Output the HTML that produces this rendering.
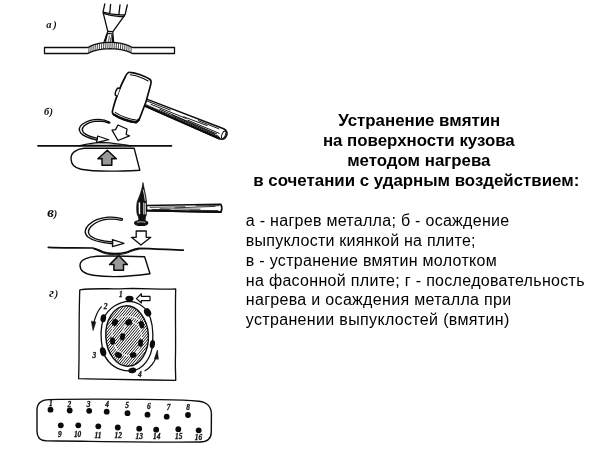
<!DOCTYPE html>
<html lang="ru"><head><meta charset="utf-8"><title>Устранение вмятин</title>
<style>
html,body{margin:0;padding:0;background:#fff;}
body{width:600px;height:449px;position:relative;overflow:hidden;font-family:"Liberation Sans",sans-serif;color:#000;}
.t{position:absolute;white-space:nowrap;line-height:20px;opacity:0.999;will-change:opacity;}
.h{font-weight:bold;font-size:16.85px;left:240px;width:360px;text-align:center;}
.b{font-size:16px;left:245.8px;}
svg{position:absolute;left:0;top:0;opacity:0.999;will-change:opacity;}
</style></head><body>
<div class="t h" style="top:111.0px;left:239.3px;">Устранение вмятин</div>
<div class="t h" style="top:131.0px;left:238.8px;">на поверхности кузова</div>
<div class="t h" style="top:151.0px;left:238.8px;">методом нагрева</div>
<div class="t h" style="top:171.0px;left:236.3px;">в сочетании с ударным воздействием:</div>
<div class="t b" style="top:211.2px;letter-spacing:0.29px;">а - нагрев металла; б - осаждение</div>
<div class="t b" style="top:231.0px;letter-spacing:0.23px;">выпуклости киянкой на плите;</div>
<div class="t b" style="top:250.8px;letter-spacing:0.305px;">в - устранение вмятин молотком</div>
<div class="t b" style="top:270.6px;letter-spacing:0.31px;">на фасонной плите; г - последовательность</div>
<div class="t b" style="top:290.4px;letter-spacing:0.315px;">нагрева и осаждения металла при</div>
<div class="t b" style="top:310.2px;letter-spacing:0.34px;">устранении выпуклостей (вмятин)</div>
<svg id="art" width="600" height="449" viewBox="0 0 600 449" fill="none" stroke="#0c0c0c" stroke-width="1.2" stroke-linecap="round" stroke-linejoin="round">
<defs>
<clipPath id="cpE"><ellipse cx="127.1" cy="336" rx="21.3" ry="30.2" transform="rotate(-3 127.1 336)"/></clipPath>
</defs>
<g fill="#111" stroke="none" font-family="'Liberation Serif',serif" font-style="italic" font-weight="bold" font-size="10.5" letter-spacing="1.9">
<text x="46.2" y="27.9">а)</text>
<text x="43.9" y="115.3" letter-spacing="0.4">б)</text>
<text x="47.3" y="217.2" letter-spacing="0"><tspan font-size="15">в</tspan><tspan x="53.7">)</tspan></text>
<text x="48.9" y="297.3" letter-spacing="0"><tspan font-size="13.5">г</tspan><tspan x="54.8" dy="0">)</tspan></text>
</g>
<g id="figa" stroke-width="1.3">
<path d="M44.5,47.5 L87.1,47.50 L88.1,47.32 L89.1,46.89 L90.1,46.33 L91.1,45.78 L92.1,45.37 L93.1,45.02 L94.1,44.70 L95.1,44.39 L96.1,44.11 L97.1,43.85 L98.1,43.62 L99.1,43.41 L100.1,43.22 L101.1,43.05 L102.1,42.90 L103.1,42.77 L104.1,42.67 L105.1,42.58 L106.1,42.51 L107.1,42.46 L108.1,42.42 L109.1,42.41 L110.1,42.40 L111.1,42.41 L112.1,42.42 L113.1,42.46 L114.1,42.51 L115.1,42.58 L116.1,42.67 L117.1,42.77 L118.1,42.90 L119.1,43.05 L120.1,43.22 L121.1,43.41 L122.1,43.62 L123.1,43.85 L124.1,44.11 L125.1,44.39 L126.1,44.70 L127.1,45.02 L128.1,45.37 L129.1,45.78 L130.1,46.33 L131.1,46.89 L132.1,47.32 L133.1,47.50 L174.5,47.5 V53.5 L133.1,53.50 L132.1,53.34 L131.1,52.93 L130.1,52.41 L129.1,51.90 L128.1,51.52 L127.1,51.20 L126.1,50.89 L125.1,50.61 L124.1,50.35 L123.1,50.11 L122.1,49.89 L121.1,49.69 L120.1,49.52 L119.1,49.36 L118.1,49.22 L117.1,49.10 L116.1,49.00 L115.1,48.92 L114.1,48.86 L113.1,48.81 L112.1,48.78 L111.1,48.76 L110.1,48.76 L109.1,48.76 L108.1,48.78 L107.1,48.81 L106.1,48.86 L105.1,48.92 L104.1,49.00 L103.1,49.10 L102.1,49.22 L101.1,49.36 L100.1,49.52 L99.1,49.69 L98.1,49.89 L97.1,50.11 L96.1,50.35 L95.1,50.61 L94.1,50.89 L93.1,51.20 L92.1,51.52 L91.1,51.90 L90.1,52.41 L89.1,52.93 L88.1,53.34 L87.1,53.50 L44.5,53.5 Z"/>
<path d="M89.0,47.44 L88.8,52.48 M91.1,46.28 L90.9,51.40 M93.2,45.48 L93.0,50.66 M95.3,44.82 L95.1,50.05 M97.4,44.27 L97.2,49.53 M99.5,43.82 L99.3,49.11 M101.7,43.46 L101.5,48.78 M103.8,43.20 L103.6,48.53 M105.9,43.02 L105.7,48.37 M108.0,42.93 L107.8,48.28 M110.1,42.90 L109.9,48.26 M112.2,42.93 L112.0,48.28 M114.3,43.02 L114.1,48.37 M116.4,43.20 L116.2,48.53 M118.5,43.46 L118.3,48.78 M120.7,43.82 L120.5,49.11 M122.8,44.27 L122.6,49.53 M124.9,44.82 L124.7,50.05 M127.0,45.48 L126.8,50.66 M129.1,46.28 L128.9,51.40 M131.2,47.44 L131.0,52.48" stroke-width="0.85" stroke="#222"/>
<path d="M104.8,3.9 L103,12.2 L107.8,31.4 M127.3,5 L125.1,14.6 L112.9,31.6 M110.6,4.4 L109.8,12.9 M120,4.8 L118.9,14.2 M103,12.2 C108,13.6 118,15.2 125.1,14.6"/>
<path d="M104.3,13.6 C110,15.6 118,16.8 124,16.2" stroke-width="1.5"/>
<path d="M107.8,31.4 L112.9,31.6 M107.6,31.8 L104,41.9 M112.8,31.8 L113.7,42 M108,33.6 L112.6,33.8" stroke-width="1.1"/>
<path d="M107,34.5 L105.3,41.6 M112,35 L112.6,41.6" stroke-width="1.6"/>
<path d="M109.3,36 L108.6,41.5 M110.6,38 L110.6,41.5" stroke-width="0.7"/>
</g>
<g id="mallet" transform="translate(132.4,97) rotate(19.5)" stroke-width="1.3">
<g transform="rotate(2.9 13 0)">
<path d="M12,-2.8 L96.5,-4.8 C100,-4.4 101.8,-2.2 101.8,0.6 C101.8,3.8 100,5.8 96.5,6.1 L12,4.2 Z" fill="#fff" stroke-width="1.5"/>
<ellipse cx="98.8" cy="0.8" rx="1.7" ry="4" fill="#fff" stroke-width="1"/>
<path d="M14,-1.2 L40,-1.7 M20,0.4 L58,0 M30,1.6 L92,2.6 M36,3 L95,4.2 M55,-0.6 L80,-1.4 M60,1 L94,1.2 M16,2.6 L36,3 M44,2.2 L90,3.4 M70,-2.6 L92,-2.9" stroke-width="0.85"/>
<path d="M13,3.9 L96,5.8" stroke-width="2.3"/>
</g>
<path d="M-10.5,-22.5 C-5,-24 5,-24 10.5,-22.5 C12.5,-22 13,-20 13.2,-17 C14.5,-6 14.8,6 14,17.5 C13.8,20.6 13.3,22.2 11.3,22.9 C5,24.6 -6,24.6 -11.8,22.9 C-13.8,22.2 -14.3,20.6 -14.4,17.5 C-15.3,6 -15,-6 -13.4,-17 C-13.2,-20 -12.7,-22 -10.5,-22.5 Z" fill="#fff" stroke-width="1.7"/>
<path d="M-9.5,-20.3 C-4,-21.5 4,-21.5 9.5,-20.3 M-11,20.2 C-5,22 6,22 11.3,20.4" stroke-width="1"/>
<path d="M-11.5,22.7 C-5,24.4 6,24.4 11.8,22.6 L13.6,19.2" stroke-width="2.4"/>
<path d="M-14.6,-4 L-16.8,-3.6 C-17.8,-1 -17.8,2 -16.8,4 L-14.7,4.2" fill="#fff" stroke-width="1.3"/>
</g>
<g id="figb">
<path d="M109.5,122 C106,120.3 103,119.5 99,119.4 C93,119.3 86,121.5 82,124.5 C79,127 78.8,130.5 81,133.3 C84,136.8 90,138.5 96.8,140.2 L97.5,138.3 C91,136.8 86.5,135.3 84,133 C82,131 81.8,128.5 84,126 C87,123.3 93,121.3 99,121.2 C103,121.3 106,122 109,123.2 C110,123 110.2,122.4 109.5,122 Z" fill="#fff" stroke-width="1.35"/>
<path d="M97.6,136 L108.7,139.7 L96.3,142.7 L97.3,139.3 Z" fill="#fff" stroke-width="1.2"/>
<path d="M118,125 L127,129 L126.2,134.5 L129.5,135.8 L118,140.5 L112,130.2 L115.5,129.6 Z" fill="#fff" stroke-width="1.3"/>
<path d="M38,145.8 L171.5,145.8" stroke-width="1.7"/>
<path d="M79,145.8 C86,144.2 94,142.5 102,142.3 C110,142.4 119,144.3 131,146" stroke-width="1.3"/>
<path d="M86,145 C93,144.2 98,143.9 103,143.9 C109,144 116,144.6 124,145.3" stroke-width="0.6" stroke="#555"/>
<path d="M134.2,148.3 L84,148.3 C76,149 71,153 71,158.4 C71,163.6 74.5,167.8 81,169.2 C93,171.6 118,171.4 139.8,170.2 Z" fill="none" stroke-width="1.4"/>
<path d="M107.3,150.2 L116.3,158.8 L111.8,158.6 L111.8,165.2 L102,165.2 L102,158.6 L97.9,158.8 Z" fill="#999" stroke-width="1.5"/>
</g>
<g id="figv">
<path d="M146.5,205.5 L220.8,204.2 C222,206.5 222,210 221,212.2 L146.5,210.6 Z" fill="#fff" stroke-width="1.6"/>
<path d="M150,207.3 L185,206.8 M160,208.8 L200,209.2 M175,207.9 L215,206.4 M190,210.3 L218,210.6 M152,209.4 L170,209.7 M196,205.8 L219,205.7" stroke-width="0.8"/>
<path d="M147,210.5 L220.8,212.1" stroke-width="2"/>
<path d="M143,183 C142,190 139.6,196 137.5,201 C136.5,203 136.4,213 137.5,215 C138.7,217 138.9,219 138.7,220.5 L145.3,220.5 C145.1,219 145.3,217 146.3,215 L146.5,201.5 C146,196 144.4,190 143,183 Z" fill="#111" stroke-width="0.7"/>
<path d="M139.4,203 L139.5,213.5" stroke="#fff" stroke-width="1.5"/>
<path d="M143.8,203 L143.8,214 M145.3,203.5 L145.3,214" stroke="#fff" stroke-width="0.9"/>
<path d="M143.3,190 C144.2,193.5 144.8,197 145.2,200.5" stroke="#fff" stroke-width="0.8"/>
<ellipse cx="141.2" cy="223" rx="6.6" ry="2.5" fill="#111" stroke-width="1.2"/>
<path d="M137.5,222.3 C139.5,221.6 143,221.6 145,222.3" stroke="#fff" stroke-width="0.7"/>
<path d="M122,218.6 C118,217.3 113,216.8 108,217.2 C101,217.8 93,220.5 88.5,225 C84.5,229 84,233.5 88,237 C93,241 102,242.8 112.5,243.8 L112.6,242 C103,241.2 95,239.5 90.5,236 C87.5,233.3 87.8,230 91,226.5 C95,222.5 102,219.8 108.5,219.2 C113,218.8 117.5,219.3 121.5,220.3 C122.6,220 122.8,219.2 122,218.6 Z" fill="#fff" stroke-width="1.35"/>
<path d="M112.3,239.6 L124,243.3 L112.3,246.6 L112.9,243 Z" fill="#fff" stroke-width="1.2"/>
<path d="M136.2,231 L146.2,231 L146.2,237.3 L150.8,237.3 L140.9,245 L131.5,237.3 L136.2,237.3 Z" fill="#fff" stroke-width="1.3"/>
<g transform="translate(0,0.4)"><path d="M48.3,247 C60,247.6 80,247.3 92.5,247.6 C96,248 99,250 102.5,251.4 C109,253.9 120,253.8 127,251.6 C131,250.2 134.5,248.2 139,247.9 C150,248 170,249.3 183.3,249.8" stroke-width="1.7"/>
<path d="M94,248.8 C97,249.4 99.5,251.2 103,252.5 C109,254.8 120,254.8 126.5,252.8 C130.5,251.5 134,249.6 138.5,249" stroke-width="1"/></g>
<path d="M97,256.2 C88,256.7 80,259.7 80,265.3 C80,270.6 85,274.2 93,275.3 C108,277.3 132,276.4 150,273.8 L144.6,256.8 C130,256.2 110,255.8 97,256.2 Z" fill="none" stroke-width="1.4"/>
<path d="M118.6,255.6 L127.4,264.6 L123.5,264.4 L123.5,270.3 L113.9,270.3 L113.9,264.4 L109.6,264.6 Z" fill="#999" stroke-width="1.5"/>
</g>
<g id="figg">
<path d="M79.8,289.8 C95,287.8 110,289.3 125,288.6 C145,288 160,289.8 175.7,289 C175,310 176,340 175.4,360 C175.2,370 175.8,376 175.7,380.4 C150,380 120,379.4 100,379.1 C92,379 85,378.9 78.6,378.7 C79.6,350 78.6,320 79.8,289.8 Z" stroke-width="1.3"/>
<g clip-path="url(#cpE)"><path d="M65.6,328.4 L109.3,276.3 M67.1,329.7 L110.9,277.6 M68.7,331.0 L112.4,278.9 M70.2,332.3 L113.9,280.2 M71.7,333.6 L115.4,281.5 M73.3,334.8 L117.0,282.8 M74.8,336.1 L118.5,284.0 M76.3,337.4 L120.0,285.3 M77.9,338.7 L121.6,286.6 M79.4,340.0 L123.1,287.9 M80.9,341.3 L124.6,289.2 M82.5,342.6 L126.2,290.5 M84.0,343.8 L127.7,291.8 M85.5,345.1 L129.2,293.0 M87.1,346.4 L130.8,294.3 M88.6,347.7 L132.3,295.6 M90.1,349.0 L133.8,296.9 M91.7,350.3 L135.4,298.2 M93.2,351.6 L136.9,299.5 M94.7,352.8 L138.4,300.8 M96.3,354.1 L140.0,302.0 M97.8,355.4 L141.5,303.3 M99.3,356.7 L143.0,304.6 M100.8,358.0 L144.6,305.9 M102.4,359.3 L146.1,307.2 M103.9,360.6 L147.6,308.5 M105.4,361.8 L149.2,309.8 M107.0,363.1 L150.7,311.0 M108.5,364.4 L152.2,312.3 M110.0,365.7 L153.8,313.6 M111.6,367.0 L155.3,314.9 M113.1,368.3 L156.8,316.2 M114.6,369.6 L158.3,317.5 M116.2,370.8 L159.9,318.8 M117.7,372.1 L161.4,320.0 M119.2,373.4 L162.9,321.3 M120.8,374.7 L164.5,322.6 M122.3,376.0 L166.0,323.9 M123.8,377.3 L167.5,325.2 M125.4,378.6 L169.1,326.5 M126.9,379.8 L170.6,327.8 M128.4,381.1 L172.1,329.0 M130.0,382.4 L173.7,330.3 M131.5,383.7 L175.2,331.6 M133.0,385.0 L176.7,332.9 M134.6,386.3 L178.3,334.2 M136.1,387.6 L179.8,335.5 M137.6,388.8 L181.3,336.8 M139.2,390.1 L182.9,338.0 M140.7,391.4 L184.4,339.3 M142.2,392.7 L185.9,340.6 M143.7,394.0 L187.5,341.9 M145.3,395.3 L189.0,343.2" stroke-width="0.92" stroke="#000"/></g>
<ellipse cx="127.1" cy="336" rx="21.3" ry="30.2" stroke-width="1.4" transform="rotate(-3 127.1 336)"/>
<path d="M122.5,337 C122,330 126,322.5 131,322 C137,321.8 141,328 141.5,336 C142,345 138,354 132,355.5 C124,357 117,352 113.5,343 C111,334 112,326 116,321.5 C121,315 133,313 141.5,323" stroke="#fff" stroke-width="1.1" fill="none" opacity="0.9"/>
<path d="M129.5,301.3 C119,301.5 108.5,308 103.6,318.5 C100.8,326 100.3,338 102.8,350.5 C104.5,358 111,366.5 121,369.6 C125,370.8 129,371 132.3,370.6 C143,369.5 151.5,358 152.6,344 C153.5,332 152.3,320 147.6,311.8 C143.5,305.5 136,301.5 129.5,301.3" stroke-width="1.3"/>
<ellipse cx="129.5" cy="298.6" rx="4.1" ry="2.9" transform="rotate(0 129.5 298.6)" fill="#0a0a0a" stroke="none"/>
<ellipse cx="103.3" cy="318.3" rx="2.8" ry="4.0" transform="rotate(10 103.3 318.3)" fill="#0a0a0a" stroke="none"/>
<ellipse cx="103.1" cy="351.8" rx="3.0" ry="4.6" transform="rotate(-15 103.1 351.8)" fill="#0a0a0a" stroke="none"/>
<ellipse cx="132.3" cy="370.4" rx="4.0" ry="2.8" transform="rotate(-10 132.3 370.4)" fill="#0a0a0a" stroke="none"/>
<ellipse cx="152.4" cy="344.2" rx="2.6" ry="4.3" transform="rotate(8 152.4 344.2)" fill="#0a0a0a" stroke="none"/>
<ellipse cx="147.6" cy="312.3" rx="3.3" ry="4.3" transform="rotate(-30 147.6 312.3)" fill="#0a0a0a" stroke="none"/>
<ellipse cx="115" cy="322.3" rx="3.0" ry="3.6" transform="rotate(20 115 322.3)" fill="#0a0a0a" stroke="none"/>
<ellipse cx="128.6" cy="322.3" rx="3.6" ry="3.0" transform="rotate(-30 128.6 322.3)" fill="#0a0a0a" stroke="none"/>
<ellipse cx="141.6" cy="324.6" rx="2.6" ry="3.8" transform="rotate(-15 141.6 324.6)" fill="#0a0a0a" stroke="none"/>
<ellipse cx="122.5" cy="336.8" rx="2.5" ry="3.6" transform="rotate(15 122.5 336.8)" fill="#0a0a0a" stroke="none"/>
<ellipse cx="112.6" cy="341" rx="2.5" ry="3.8" transform="rotate(-5 112.6 341)" fill="#0a0a0a" stroke="none"/>
<ellipse cx="140.6" cy="343" rx="2.4" ry="3.8" transform="rotate(10 140.6 343)" fill="#0a0a0a" stroke="none"/>
<ellipse cx="118.5" cy="355" rx="3.6" ry="2.8" transform="rotate(25 118.5 355)" fill="#0a0a0a" stroke="none"/>
<ellipse cx="133.2" cy="355" rx="3.3" ry="2.8" transform="rotate(-25 133.2 355)" fill="#0a0a0a" stroke="none"/>
<path d="M136.4,298.6 L141.4,293.8 L141.4,296.4 L150,296.4 L150,300.6 L141.4,300.6 L141.4,303 Z" fill="#fff" stroke-width="1.2"/>
<path d="M101.3,306.8 C97.5,311 95,317 93.6,324" stroke-width="1.2"/>
<path d="M91.4,321.5 L93.1,330.5 L95.7,322.3 Z" fill="#111" stroke-width="0.6"/>
<path d="M145,370.8 C150,367.8 154.3,362.5 156.4,356.5" stroke-width="1.2"/>
<path d="M154.5,358.5 L157.4,350 L158.3,359 Z" fill="#111" stroke-width="0.6"/>
</g>
<g id="figd">
<path d="M49,399.6 C80,398.8 130,399.2 160,399.6 C175,399.8 190,400.3 199,401.2 C207,402 211.3,407 211.4,414 L211.3,432 C211.2,438.5 207,442 200,442 C160,442.6 90,441.2 46,440.8 C40,440.6 37,437 37,431 L37,410 C37,403.5 41,399.9 49,399.6 Z" stroke-width="1.4"/>
<circle cx="50.5" cy="409.7" r="2.9" fill="#0a0a0a" stroke="none"/>
<circle cx="69.7" cy="410.5" r="2.9" fill="#0a0a0a" stroke="none"/>
<circle cx="89.2" cy="410.8" r="2.9" fill="#0a0a0a" stroke="none"/>
<circle cx="106.7" cy="411.7" r="2.9" fill="#0a0a0a" stroke="none"/>
<circle cx="127.5" cy="413.2" r="2.9" fill="#0a0a0a" stroke="none"/>
<circle cx="147.5" cy="414.7" r="2.9" fill="#0a0a0a" stroke="none"/>
<circle cx="166.7" cy="416.7" r="2.9" fill="#0a0a0a" stroke="none"/>
<circle cx="188" cy="415" r="2.9" fill="#0a0a0a" stroke="none"/>
<circle cx="60.8" cy="425.3" r="2.9" fill="#0a0a0a" stroke="none"/>
<circle cx="78.3" cy="425.3" r="2.9" fill="#0a0a0a" stroke="none"/>
<circle cx="98.3" cy="426.3" r="2.9" fill="#0a0a0a" stroke="none"/>
<circle cx="117.8" cy="427.5" r="2.9" fill="#0a0a0a" stroke="none"/>
<circle cx="139.2" cy="428.7" r="2.9" fill="#0a0a0a" stroke="none"/>
<circle cx="156.2" cy="429.7" r="2.9" fill="#0a0a0a" stroke="none"/>
<circle cx="178.3" cy="429.2" r="2.9" fill="#0a0a0a" stroke="none"/>
<circle cx="198.7" cy="430.3" r="2.9" fill="#0a0a0a" stroke="none"/>
</g>
<g fill="#111" stroke="#111" stroke-width="0.3" font-family="'Liberation Serif',serif" font-style="italic" font-weight="bold" font-size="8.4" text-anchor="middle">
<text transform="translate(120.8,296.6) scale(0.88,1)">1</text>
<text transform="translate(105.6,308.6) scale(0.88,1)">2</text>
<text transform="translate(94.3,357.6) scale(0.88,1)">3</text>
<text transform="translate(139.9,377) scale(0.88,1)">4</text>
<text transform="translate(50.8,406) scale(0.88,1)">1</text>
<text transform="translate(69.4,407) scale(0.88,1)">2</text>
<text transform="translate(88.5,407) scale(0.88,1)">3</text>
<text transform="translate(107.2,407) scale(0.88,1)">4</text>
<text transform="translate(127,407.8) scale(0.88,1)">5</text>
<text transform="translate(148.8,408.6) scale(0.88,1)">6</text>
<text transform="translate(168.5,409.5) scale(0.88,1)">7</text>
<text transform="translate(188.2,409.5) scale(0.88,1)">8</text>
<text transform="translate(59.8,436.5) scale(0.88,1)">9</text>
<text transform="translate(77.6,437) scale(0.88,1)">10</text>
<text transform="translate(98,437.5) scale(0.88,1)">11</text>
<text transform="translate(118.3,437.8) scale(0.88,1)">12</text>
<text transform="translate(139.2,439) scale(0.88,1)">13</text>
<text transform="translate(156.8,439) scale(0.88,1)">14</text>
<text transform="translate(178.8,439) scale(0.88,1)">15</text>
<text transform="translate(198.4,440.2) scale(0.88,1)">16</text>
</g>
</svg>
</body></html>
